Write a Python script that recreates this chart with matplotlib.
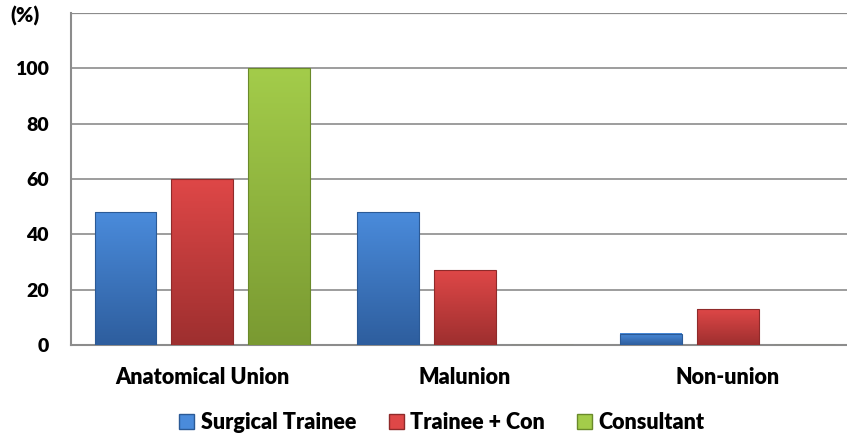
import numpy as np
import matplotlib.pyplot as plt
from matplotlib.patches import Patch
from matplotlib.colors import to_rgb

categories = ['Anatomical Union', 'Malunion', 'Non-union']
series = ['Surgical Trainee', 'Trainee + Con', 'Consultant']
trainee = [48, 48, 4]
trainee_con = [60, 27, 13]
consultant = [100, 0, 0]
tops = ['#4a8bdb', '#de4747', '#a3cc4a']
bottoms = ['#2e5e9e', '#9e2f2f', '#7a9a32']
edges = ['#2b5a96', '#8f2a2a', '#6a8a2a']

plt.rcParams['font.family'] = ['Lato', 'DejaVu Sans']
plt.rcParams['font.weight'] = 'heavy'

fig = plt.figure(figsize=(8.47, 4.36), dpi=100)
ax = fig.add_axes([0.084, 0.209, 0.930, 0.761])

x = np.arange(len(categories))
w = 0.236
step = 0.293
for i, vals in enumerate([trainee, trainee_con, consultant]):
    bars = ax.bar(x + (i - 1) * step, vals, width=w, color='none',
                  edgecolor=edges[i], linewidth=0.8, zorder=4)
    c1 = np.array(to_rgb(tops[i]))
    c2 = np.array(to_rgb(bottoms[i]))
    t = np.linspace(0, 1, 64)[:, None]
    grad = (c1 * (1 - t) + c2 * t)[:, None, :]
    for b in bars:
        if b.get_height() <= 0:
            continue
        x0, y0 = b.get_x(), b.get_y()
        ax.imshow(grad, extent=[x0, x0 + b.get_width(), y0, y0 + b.get_height()],
                  aspect='auto', origin='upper', zorder=3, interpolation='bilinear')

ax.set_xlim(-0.5, 2.5)
ax.set_ylim(0, 120)
ax.set_yticks([0, 20, 40, 60, 80, 100])
ax.set_xticks(x)
ax.set_xticklabels(categories)
ax.yaxis.grid(True, color='#8c8c8c', linewidth=1.2, zorder=0)
ax.axhline(120, color='#8c8c8c', linewidth=1.6, zorder=0)
ax.tick_params(axis='x', length=0, labelsize=15.5, pad=16)
ax.tick_params(axis='y', length=0, labelsize=14, pad=16)
for s in ['top', 'right']:
    ax.spines[s].set_visible(False)
for s in ['left', 'bottom']:
    ax.spines[s].set_color('#8c8c8c')
    ax.spines[s].set_linewidth(1.5)

fig.text(0.012, 0.963, '(%)', fontsize=15, fontweight='heavy', va='center')

handles = [Patch(facecolor=tops[i], edgecolor=edges[i]) for i in range(3)]
fig.legend(handles, series, loc='center', bbox_to_anchor=(0.522, 0.03),
           ncol=3, frameon=False, fontsize=15.5, handlelength=0.7,
           handleheight=0.7, handletextpad=0.3, columnspacing=1.5)

plt.savefig('out.png', dpi=100)
